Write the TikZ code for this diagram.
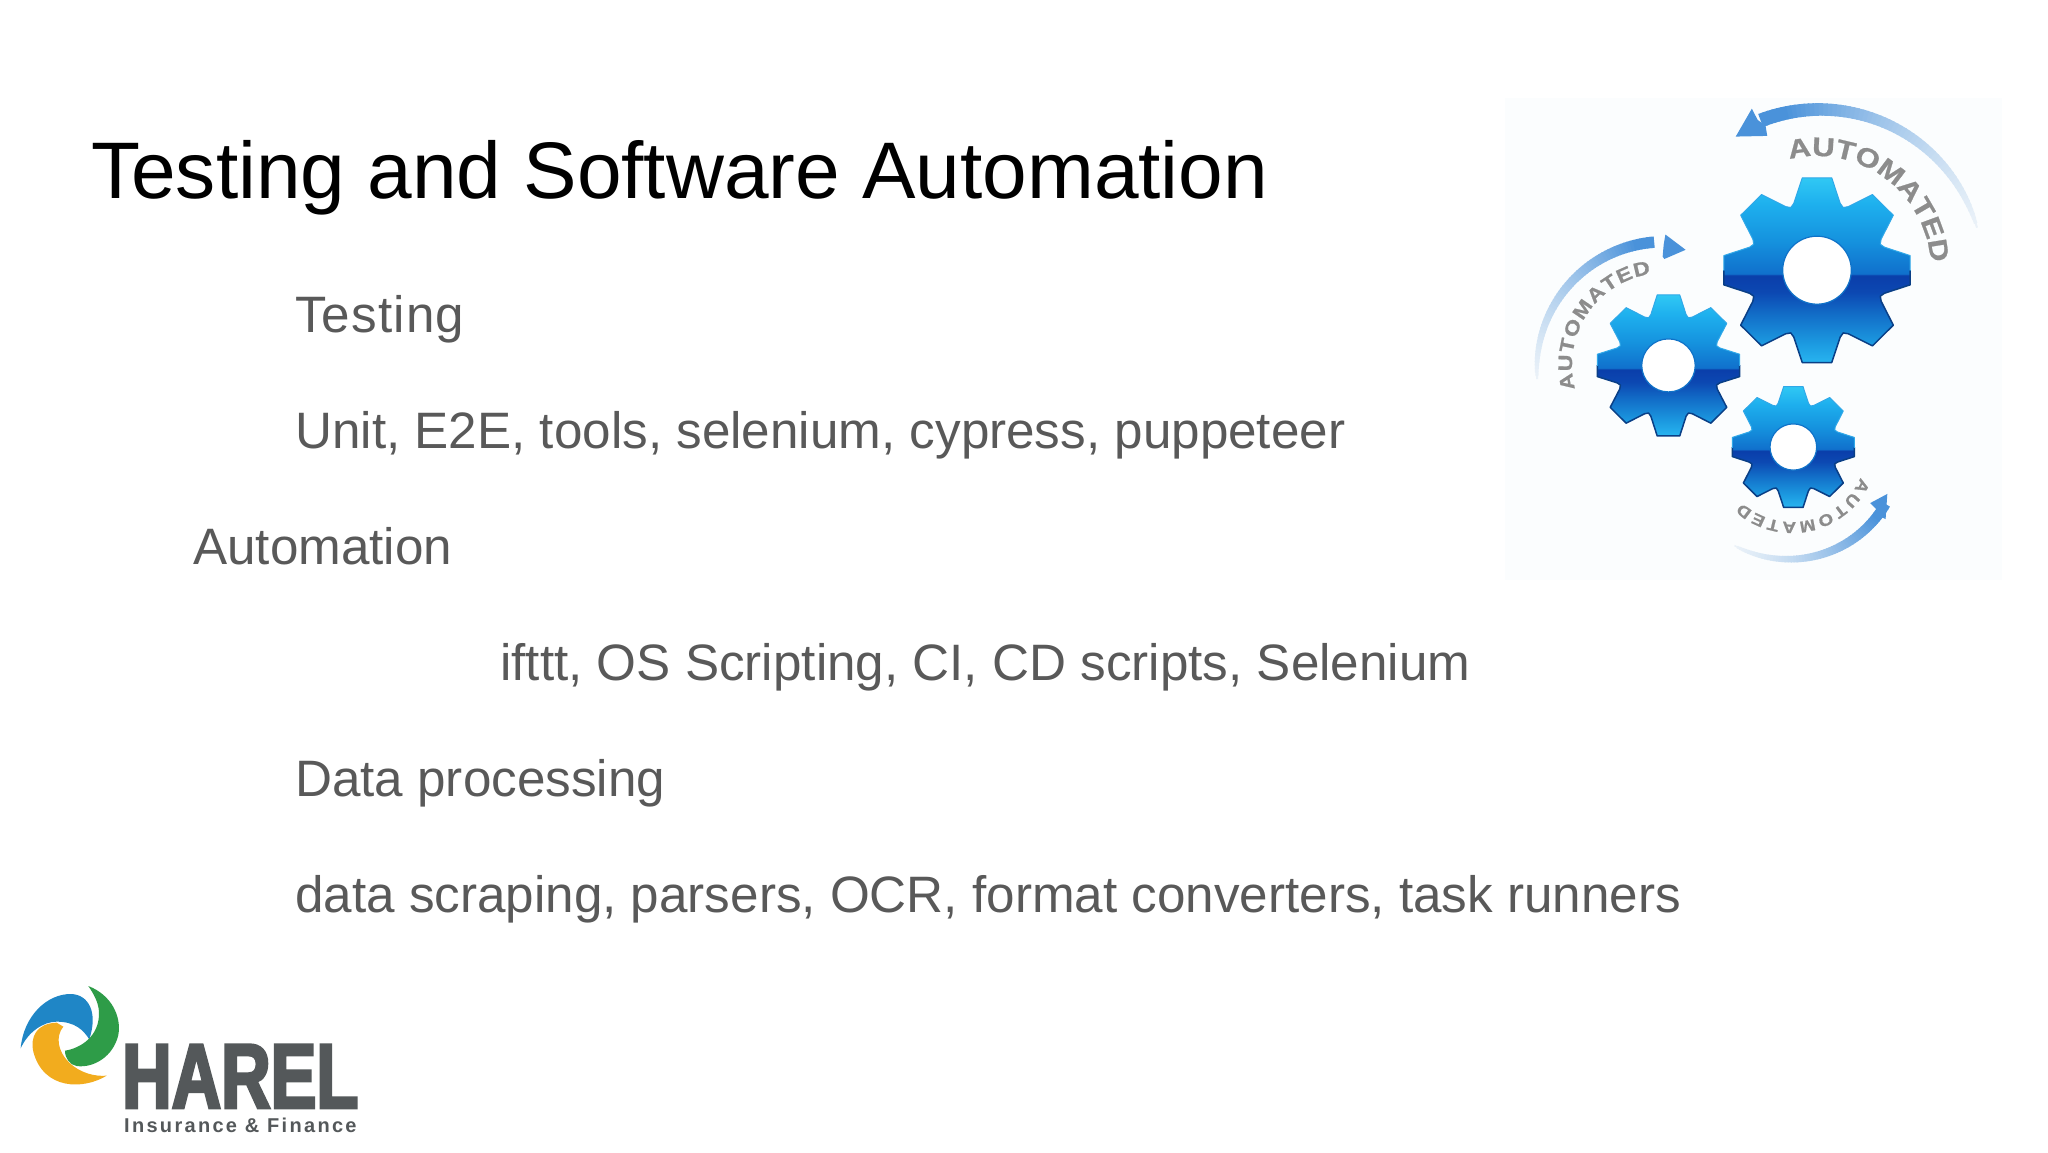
\documentclass[tikz,border=0pt]{standalone}
\usepackage{fontspec}
\usetikzlibrary{decorations.text}
\setmainfont{Liberation Sans}
\newfontfamily\autofont[UprightFont=* Bold,FakeStretch=1.18,FakeBold=0.8]{Liberation Sans}
\newfontfamily\harelfont[UprightFont=* Bold,FakeStretch=0.745,FakeBold=3]{Liberation Sans}
\newfontfamily\insfont[UprightFont=* Bold,LetterSpace=11.5]{Liberation Sans}
\newfontfamily\widebody[LetterSpace=2.2]{Liberation Sans}
\definecolor{bodygray}{HTML}{595959}
\definecolor{autogray}{HTML}{8C8C8C}
\definecolor{logogray}{HTML}{54585A}
\definecolor{picbg}{HTML}{FBFDFE}
\definecolor{arrowblue}{HTML}{4A92DA}
\definecolor{arrowfade}{HTML}{EEF4F9}
\definecolor{gearedge}{HTML}{0A3F86}
\definecolor{gearlight}{HTML}{30A8E8}
\definecolor{ringblue}{HTML}{0F72C8}
\definecolor{logoblue}{HTML}{1F86C6}
\definecolor{logogreen}{HTML}{2E9C48}
\definecolor{logoorange}{HTML}{F2AC1E}
\pgfdeclareverticalshading{gearshade}{100bp}{
  color(0bp)=(rgb,255:red,40;green,180;blue,240);
  color(25bp)=(rgb,255:red,40;green,180;blue,240);
  color(30bp)=(rgb,255:red,28;green,155;blue,225);
  color(38bp)=(rgb,255:red,18;green,110;blue,200);
  color(44bp)=(rgb,255:red,12;green,72;blue,178);
  color(48.6bp)=(rgb,255:red,10;green,62;blue,170);
  color(49bp)=(rgb,255:red,16;green,112;blue,204);
  color(58bp)=(rgb,255:red,21;green,146;blue,222);
  color(68bp)=(rgb,255:red,30;green,176;blue,238);
  color(75bp)=(rgb,255:red,48;green,200;blue,244);
  color(100bp)=(rgb,255:red,48;green,200;blue,244)}
\tikzset{
  titletext/.style={anchor=base west,inner sep=0pt,text=black,font=\fontsize{80.2}{96}\selectfont},
  bodytext/.style={anchor=base west,inner sep=0pt,text=bodygray,font=\fontsize{51.2}{62}\selectfont},
  arctext/.style={decorate,decoration={text along path,text={#1},text align={fit to path}}}
}
% gear: cx cy outer root hole (in reference zoom units)
\newcommand{\gearoutline}[4]{%
  ({#1+#3*cos(81)},{#2-#3*sin(81)})
  \foreach \k in {0,...,7}{
    -- ({#1+#3*cos(99+45*\k)},{#2-#3*sin(99+45*\k)})
    -- ({#1+#4*cos(109+45*\k)},{#2-#4*sin(109+45*\k)})
    -- ({#1+0.96*#4*cos(112.5+45*\k)},{#2-0.96*#4*sin(112.5+45*\k)})
    -- ({#1+#4*cos(116+45*\k)},{#2-#4*sin(116+45*\k)})
    -- ({#1+#3*cos(126+45*\k)},{#2-#3*sin(126+45*\k)})
  }}
\newcommand{\gearpic}[5]{%
  \shade[shading=gearshade] \gearoutline{#1}{#2}{#3}{#4} -- cycle;
  \begin{scope}
    \clip (#1-#3-20,#2) rectangle (#1+#3+20,#2+#3+20);
    \draw[gearedge,line width=1.5pt,line join=round] \gearoutline{#1}{#2}{#3}{#4} -- cycle;
  \end{scope}
  \begin{scope}
    \clip (#1-#3-20,#2) rectangle (#1+#3+20,#2-#3-20);
    \draw[gearlight,line width=1pt,line join=round] \gearoutline{#1}{#2}{#3}{#4} -- cycle;
  \end{scope}
  \fill[white,draw=ringblue,line width=1.2pt] (#1,#2) circle (#5);
}
% tapered arc: cx cy a0 a1 r0 r1 w0 w1
\newcommand{\taperarc}[8]{%
  \foreach \i in {0,...,59}{
    \pgfmathsetmacro{\ta}{\i/60}
    \pgfmathsetmacro{\tb}{(\i+1.3)/60}
    \pgfmathsetmacro{\mixv}{min(100,2+\ta*\ta*60+\ta*55)}
    \pgfmathsetmacro{\wv}{#7+(#8-#7)*sqrt(\ta)}
    \draw[arrowblue!\mixv!arrowfade,line width=\wv pt]
      ({#1+(#5+(#6-#5)*\ta)*cos(#3+(#4-#3)*\ta)},{#2-(#5+(#6-#5)*\ta)*sin(#3+(#4-#3)*\ta)})
      -- ({#1+(#5+(#6-#5)*\tb)*cos(#3+(#4-#3)*\tb)},{#2-(#5+(#6-#5)*\tb)*sin(#3+(#4-#3)*\tb)});
  }}
\begin{document}
\begin{tikzpicture}[x=1pt,y=1pt]
\useasboundingbox (0,0) rectangle (2048,-1152);
\fill[white] (0,0) rectangle (2048,-1152);
% text
\node[titletext] (title) at (91,-198.5) {Testing and Software Automation};
\node[bodytext] (l1) at (295,-332) {\widebody Testing};
\node[bodytext] (l2) at (295,-448) {Unit, E2E, tools, selenium, cypress, puppeteer};
\node[bodytext] (l3) at (193,-564) {Automation};
\node[bodytext] (l4) at (500,-680) {ifttt, OS Scripting, CI, CD scripts, Selenium};
\node[bodytext] (l5) at (295,-796) {Data processing};
\node[bodytext] (l6) at (295,-912) {data scraping, parsers, OCR, format converters, task runners};
% gears picture
\fill[picbg] (1505,-98) rectangle (2002,-580);
\begin{scope}[shift={(1510,-90)},x=0.343pt,y=-0.34pt]
  \taperarc{895}{530}{15}{110}{483}{470}{2}{14}
  \fill[arrowblue] (658,137) -- (705,55) -- (722,88) -- (745,105) -- (750,135) -- cycle;
  \taperarc{462}{810}{186}{97}{385}{365}{2}{11.5}
  \fill[arrowblue] (512,470) -- (453,425) -- (448,455) -- (445,490) -- (450,497) -- cycle;
  \taperarc{822}{1050}{-120}{-32}{335}{320}{1.5}{10.5}
  \fill[arrowblue] (1100,1188) -- (1050,1215) -- (1070,1235) -- (1080,1255) -- (1095,1262) -- cycle;
  \gearpic{895}{530}{275}{208}{100}
  \gearpic{462}{810}{210}{158}{78}
  \gearpic{826}{1050}{180}{136}{68}
\end{scope}
\newcommand{\autoA}{\autofont\fontsize{26.5}{30}\selectfont\color{autogray}}
\newcommand{\autoB}{\autofont\fontsize{19.5}{24}\selectfont\color{autogray}}
\newcommand{\autoC}{\autofont\fontsize{16}{18}\selectfont\color{autogray}}
\path[arctext={|\autoA|AUTOMATED}] (1817,-270) ++(104:114) arc[start angle=104,end angle=5,radius=114];
\path[arctext={|\autoB|AUTOMATED}] (1664,-365) ++(195:92) arc[start angle=195,end angle=98,radius=92];
\path[arctext={|\autoC|AUTOMATED}] (1792,-447) ++(-24:75) arc[start angle=-24,end angle=-132,radius=75];
% logo
\begin{scope}[shift={(0,-980)},x=0.3333pt,y=-0.3333pt]
  \fill[logoorange] (320,287) .. controls (250,330) and (130,330) .. (100,215)
    .. controls (90,170) and (110,130) .. (170,128) -- (190,140)
    .. controls (165,170) and (175,215) .. (205,245)
    .. controls (240,280) and (285,290) .. (320,287) -- cycle;
  \fill[logoblue] (62,205) .. controls (70,110) and (140,40) .. (215,42)
    .. controls (265,45) and (295,95) .. (268,178)
    .. controls (250,150) and (225,125) .. (170,125)
    .. controls (130,125) and (85,155) .. (62,205) -- cycle;
  \fill[logogreen] (265,18) .. controls (335,45) and (365,110) .. (355,165)
    .. controls (340,230) and (280,265) .. (230,258)
    .. controls (210,255) and (195,235) .. (195,212)
    .. controls (240,205) and (300,170) .. (297,95)
    .. controls (295,65) and (280,40) .. (265,18) -- cycle;
\end{scope}
\node[anchor=base west,inner sep=0pt,text=logogray,font=\harelfont\fontsize{92}{100}\selectfont] (harel) at (122,-1108) {HAREL};
\node[anchor=base west,inner sep=0pt,text=logogray,font=\insfont\fontsize{20}{24}\selectfont] (ins) at (124,-1132) {Insurance \& Finance};
\end{tikzpicture}
\end{document}
